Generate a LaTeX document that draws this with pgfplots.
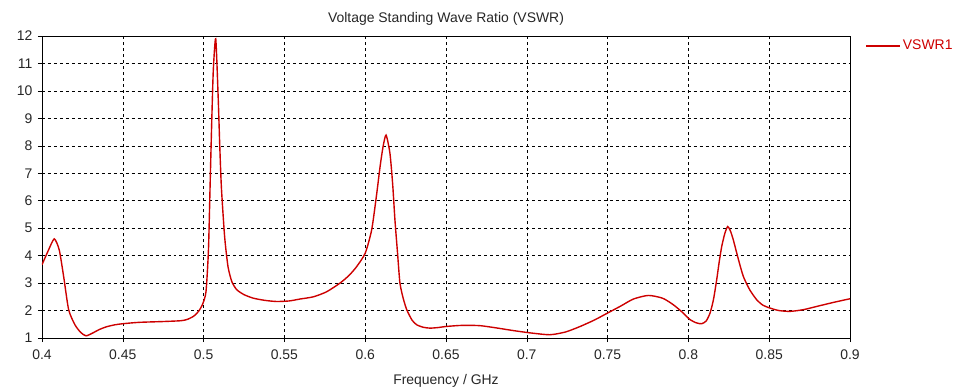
\documentclass[border=0pt]{standalone}
\usepackage{fontspec}
\setmainfont{Liberation Sans}
\usepackage{pgfplots}
\pgfplotsset{compat=1.18}
\definecolor{vswr}{RGB}{205,0,0}
\begin{document}
\begin{tikzpicture}[x=1bp,y=1bp]
\path[use as bounding box] (-42,-53) rectangle (925,338);
\begin{axis}[
  at={(0,0)}, anchor=south west,
  scale only axis, width=808bp, height=302bp,
  xmin=0.4, xmax=0.9, ymin=1, ymax=12,
  xtick={0.4,0.45,...,0.9},
  xticklabels={0.4,0.45,0.5,0.55,0.6,0.65,0.7,0.75,0.8,0.85,0.9},
  ytick={1,2,...,12},
  grid=major,
  major grid style={black, dashed, line width=0.6pt},
  axis line style={black, line width=0.8pt},
  tick style={black, line width=0.6pt},
  tick align=outside, major tick length=4bp,
  xtick pos=bottom, ytick pos=left,
  /pgf/number format/assume math mode=true,
  tick label style={font=\fontsize{14}{16}\selectfont, text=black!85},
  xticklabel style={yshift=-4bp},
  yticklabel style={xshift=-2bp},
  xlabel={Frequency / GHz},
  xlabel style={font=\fontsize{14}{16}\selectfont, text=black!85, yshift=-8bp},
  title={Voltage Standing Wave Ratio (VSWR)},
  title style={font=\fontsize{14}{16}\selectfont, text=black!85, yshift=1bp},
  legend style={at={(1.015,1)}, anchor=north west, draw=none, fill=none,
    font=\fontsize{14}{16}\selectfont, text=vswr,
    /tikz/every even column/.append style={column sep=2bp}},
  legend cell align=left,
]
\addplot[vswr, line width=1.4pt, smooth, tension=0.4,
  legend image code/.code={\draw[vswr, line width=1.6pt, sharp plot] (0bp,0bp) -- (34bp,0bp);}] coordinates {
(0.4000,3.67) (0.4040,4.20) (0.4076,4.61) (0.4107,4.20) (0.4135,3.20)
(0.4165,2.03) (0.4204,1.48) (0.4240,1.20) (0.4272,1.08) (0.4310,1.17)
(0.4355,1.31) (0.4400,1.41) (0.4450,1.48) (0.4500,1.52) (0.4600,1.57) (0.4750,1.60)
(0.4860,1.63) (0.4900,1.68) (0.4940,1.80) (0.4970,1.98) (0.4995,2.25) (0.5015,2.70)
(0.5030,4.20) (0.5040,6.50) (0.5050,8.80) (0.5060,10.75) (0.5075,11.90)
(0.5090,9.80) (0.5100,8.00) (0.5110,6.50) (0.5130,4.70) (0.5151,3.60)
(0.5175,3.05) (0.5205,2.76) (0.5250,2.58) (0.5308,2.45) (0.5380,2.37)
(0.5452,2.33) (0.5530,2.35) (0.5597,2.42) (0.5679,2.50) (0.5760,2.68)
(0.5844,3.00) (0.5900,3.28) (0.5947,3.60) (0.6000,4.09) (0.6040,4.94)
(0.6070,6.20) (0.6092,7.24) (0.6110,7.95) (0.6129,8.39) (0.6153,7.73)
(0.6170,6.60) (0.6184,5.30) (0.6200,4.10) (0.6215,3.00) (0.6235,2.45)
(0.6257,2.03) (0.6290,1.65) (0.6319,1.48) (0.6360,1.39) (0.6401,1.36)
(0.6450,1.38) (0.6500,1.42) (0.6600,1.46) (0.6710,1.45) (0.6820,1.36)
(0.6917,1.27) (0.7030,1.18) (0.7144,1.12) (0.7240,1.22) (0.7330,1.42)
(0.7420,1.66) (0.7500,1.91) (0.7580,2.16) (0.7660,2.42) (0.7752,2.55)
(0.7840,2.45) (0.7907,2.21) (0.7960,1.95) (0.8010,1.67) (0.8050,1.55)
(0.8082,1.52) (0.8110,1.62) (0.8134,1.91) (0.8155,2.40) (0.8175,3.12)
(0.8190,3.75) (0.8206,4.33) (0.8225,4.80) (0.8243,5.06) (0.8260,4.90)
(0.8278,4.57) (0.8310,3.85) (0.8340,3.24) (0.8380,2.75) (0.8423,2.39)
(0.8460,2.20) (0.8505,2.09) (0.8560,2.00) (0.8629,1.97) (0.8710,2.03)
(0.8794,2.15) (0.8900,2.30) (0.9000,2.43)
};
\addlegendentry{VSWR1}
\end{axis}
\end{tikzpicture}
\end{document}
